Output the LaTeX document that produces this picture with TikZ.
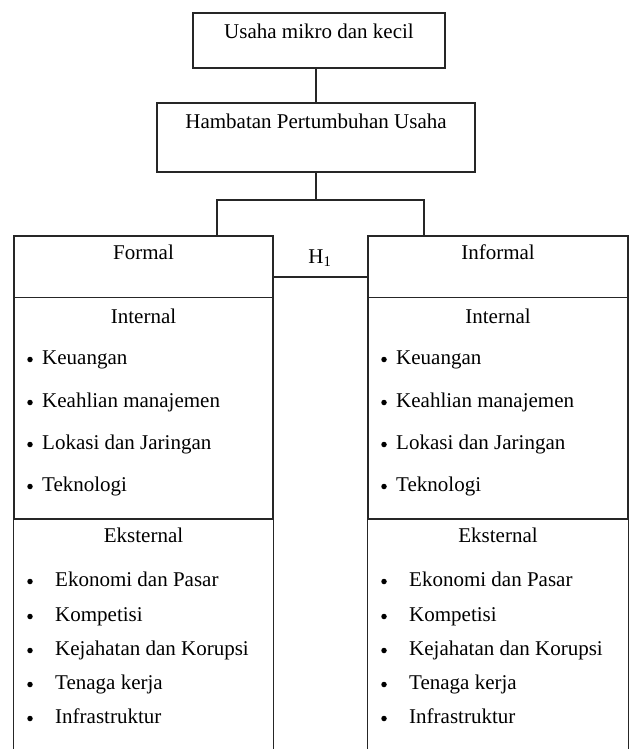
\documentclass[tikz,border=0pt]{standalone}
\usepackage{fontspec}
\setmainfont{Liberation Serif}
\begin{document}
\begin{tikzpicture}[x=1pt,y=-1pt,
  line/.style={draw=black!85, line width=1.3pt},
  box/.style={line, rectangle, inner sep=0pt},
  txt/.style={font=\fontsize{21}{25}\selectfont, inner sep=0pt, text height=14.5pt, text depth=1pt},
  dot/.style={circle, fill=black, inner sep=0pt, minimum size=5.5pt}]
\useasboundingbox (0,0) rectangle (629,749);
\clip (0,0) rectangle (629,749);
% top boxes
\node[box, minimum width=252pt, minimum height=55pt] (top) at (319,40.5) {};
\node[txt] (toptxt) at (319,32) {Usaha mikro dan kecil};
\node[box, minimum width=318pt, minimum height=69pt] (hamb) at (316,137.5) {};
\node[txt] (hambtxt) at (316,122) {Hambatan Pertumbuhan Usaha};
% formal column
\node[box, minimum width=259pt, minimum height=61.5pt] (fh) at (143.5,266.75) {};
\node[box, minimum width=259pt, minimum height=221.5pt] (fi) at (143.5,408.25) {};
\draw[line] (fi.south west) -- ++(0,235);
\draw[line] (fi.south east) -- ++(0,235);
\node[txt] (ftitle) at (143.5,253) {Formal};
\node[txt] (fint) at (143.5,317) {Internal};
\node[txt] (fext) at (143.5,536) {Eksternal};
% informal column
\node[box, minimum width=260pt, minimum height=61.5pt] (ih) at (498,266.75) {};
\node[box, minimum width=260pt, minimum height=221.5pt] (ii) at (498,408.25) {};
\draw[line] (ii.south west) -- ++(0,235);
\draw[line] (ii.south east) -- ++(0,235);
\node[txt] (ititle) at (498,253) {Informal};
\node[txt] (iint) at (498,317) {Internal};
\node[txt] (iext) at (498,536) {Eksternal};
% connectors
\draw[line] (hamb.north) -- (hamb.north |- top.south);
\coordinate (bl) at (217,200);
\coordinate (bR) at (424,200);
\draw[line] (hamb.south) -- (hamb.south |- bl);
\draw[line] (bl |- fh.north) -- (bl) -- (bR) -- (bR |- ih.north);
\coordinate (mid) at (320,277);
\draw[line] (mid -| fh.east) -- (mid -| ih.west);
\node[txt] (h1) at (320,257) {H\textsubscript{1}};
% internal items
\foreach \y/\t [count=\i] in {358/Keuangan, 401/Keahlian manajemen, 443/Lokasi dan Jaringan, 485/Teknologi} {
  \node[dot] (fdi\i) at (30,\y+1.5) {};
  \node[txt, anchor=west] (fti\i) at (42,\y) {\t};
  \node[dot] (idi\i) at (384,\y+1.5) {};
  \node[txt, anchor=west] (iti\i) at (396,\y) {\t};
}
% external items
\foreach \y/\t [count=\i] in {580/Ekonomi dan Pasar, 615/Kompetisi, 649/Kejahatan dan Korupsi, 683/Tenaga kerja, 717/Infrastruktur} {
  \node[dot] (fde\i) at (30,\y+1.5) {};
  \node[txt, anchor=west] (fte\i) at (55,\y) {\t};
  \node[dot] (ide\i) at (384,\y+1.5) {};
  \node[txt, anchor=west] (ite\i) at (409,\y) {\t};
}
\end{tikzpicture}
\end{document}
